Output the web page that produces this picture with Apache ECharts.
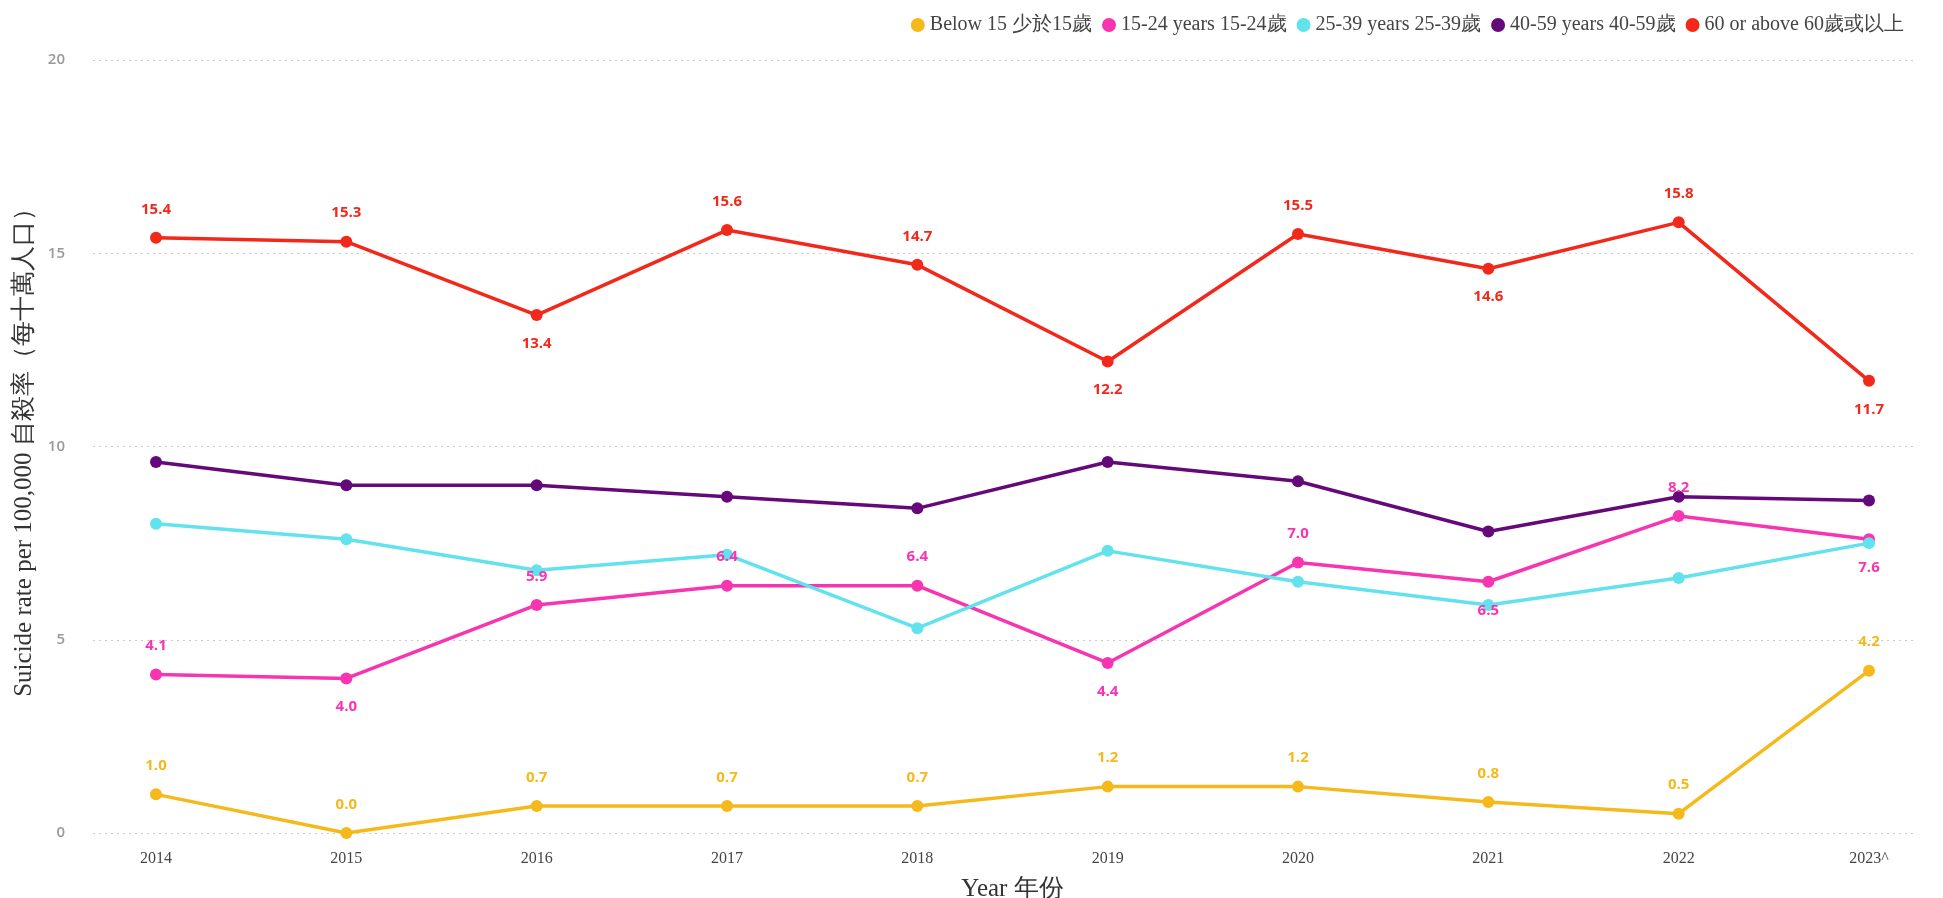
<!DOCTYPE html>
<html>
<head>
<meta charset="utf-8">
<script src="https://cdn.jsdelivr.net/npm/echarts@6/dist/echarts.min.js"></script>
<style>
  html, body { margin: 0; padding: 0; background: #fff; }
  #chart { width: 1943px; height: 898px; }
</style>
</head>
<body>
<div id="chart"></div>
<script>
const years = ['2014', '2015', '2016', '2017', '2018', '2019', '2020', '2021', '2022', '2023^']

const below15 = [1.0, 0.0, 0.7, 0.7, 0.7, 1.2, 1.2, 0.8, 0.5, 4.2]
const age15to24 = [4.1, 4.0, 5.9, 6.4, 6.4, 4.4, 7.0, 6.5, 8.2, 7.6]
const age25to39 = [8.0, 7.6, 6.8, 7.2, 5.3, 7.3, 6.5, 5.9, 6.6, 7.5]
const age40to59 = [9.6, 9.0, 9.0, 8.7, 8.4, 9.6, 9.1, 7.8, 8.7, 8.6]
const age60plus = [15.4, 15.3, 13.4, 15.6, 14.7, 12.2, 15.5, 14.6, 15.8, 11.7]

const seriesNames = [
  'Below 15 少於15歲',
  '15-24 years 15-24歲',
  '25-39 years 25-39歲',
  '40-59 years 40-59歲',
  '60 or above 60歲或以上'
]
const colors = ['#f5b91b', '#f735b0', '#62e2ec', '#64087a', '#f2281a']

const serif = '"Liberation Serif", "Times New Roman", serif'
const sans = '"Open Sans", "Noto Sans", sans-serif'

// label goes under the point when it is a dip (lower than its neighbours)
function withLabels(values, flip) {
  return values.map((v, i) => {
    let prev = i > 0 ? values[i - 1] : Infinity
    let next = i < values.length - 1 ? values[i + 1] : Infinity
    let below = flip && v < prev && v < next
    return {
      value: v,
      label: { position: below ? 'bottom' : 'top' }
    }
  })
}

function makeSeries(idx, values, showLabel, flip) {
  return {
    name: seriesNames[idx],
    type: 'line',
    xAxisIndex: 1,
    yAxisIndex: 1,
    data: showLabel ? withLabels(values, flip) : values,
    symbol: 'circle',
    symbolSize: 12,
    showAllSymbol: true,
    lineStyle: { width: 3.5, color: colors[idx] },
    itemStyle: { color: colors[idx] },
    label: {
      show: showLabel,
      distance: 15,
      color: colors[idx],
      fontFamily: sans,
      fontWeight: 'bold',
      fontSize: 15,
      formatter: (p) => p.value.toFixed(1)
    },
    emphasis: { disabled: true },
    animation: false
  }
}

const chart = echarts.init(document.getElementById('chart'))

const option = {
  backgroundColor: '#fff',
  color: colors,
  legend: {
    top: 10,
    right: 34,
    icon: 'circle',
    itemWidth: 14,
    itemHeight: 14,
    itemGap: 10,
    textStyle: { fontFamily: serif, fontSize: 20, color: '#444' },
    data: seriesNames
  },
  // second grid is narrower so the gridlines of the first run past the end points
  grid: [
    { left: 93, right: 29, top: 60, bottom: 65, outerBoundsMode: 'none' },
    { left: 156, right: 74, top: 60, bottom: 65, outerBoundsMode: 'none' }
  ],
  xAxis: [
    { gridIndex: 0, type: 'value', min: 0, max: 1, show: false },
    {
      gridIndex: 1,
      type: 'category',
      boundaryGap: false,
      data: years,
      axisLine: { show: false },
      axisTick: { show: false },
      axisLabel: { margin: 18, fontFamily: serif, fontSize: 16, color: '#444' },
      name: 'Year 年份',
      nameLocation: 'middle',
      nameGap: 44,
      nameTextStyle: { fontFamily: serif, fontSize: 25, color: '#333' }
    }
  ],
  yAxis: [
    {
      gridIndex: 0,
      type: 'value',
      min: 0,
      max: 20,
      interval: 5,
      axisLine: { show: false },
      axisTick: { show: false },
      axisLabel: { margin: 28, fontFamily: sans, fontSize: 15, fontWeight: 600, color: '#999' },
      splitLine: { lineStyle: { type: [2, 4], color: '#ccc', width: 1 } },
      name: 'Suicide rate per 100,000 自殺率（每十萬人口）',
      nameLocation: 'middle',
      nameGap: 55,
      nameTextStyle: { fontFamily: serif, fontSize: 25, color: '#333' }
    },
    { gridIndex: 1, type: 'value', min: 0, max: 20, interval: 5, show: false }
  ],
  series: [
    makeSeries(0, below15, true, false),
    makeSeries(1, age15to24, true, true),
    makeSeries(2, age25to39, false, false),
    makeSeries(3, age40to59, false, false),
    makeSeries(4, age60plus, true, true)
  ]
}

chart.setOption(option)
</script>
</body>
</html>
